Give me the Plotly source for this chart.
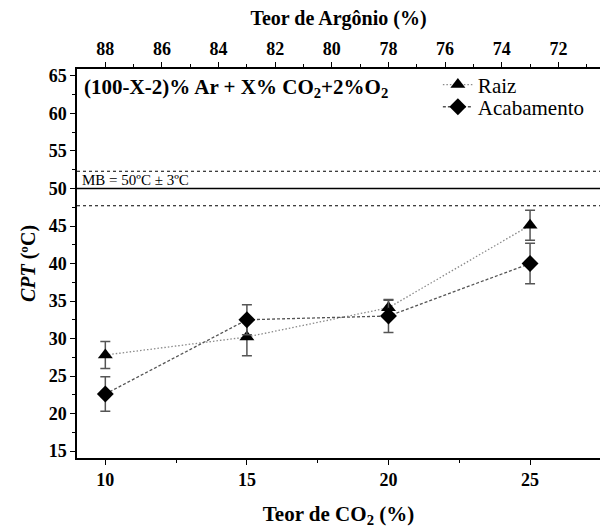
import plotly.graph_objects as go

# Data
co2 = [10, 15, 20, 25]
raiz = [27.8, 30.2, 34.1, 45.1]
raiz_err = [1.8, 2.5, 1.0, 2.0]
acab = [22.6, 32.5, 33.0, 40.0]
acab_err = [2.3, 2.0, 2.2, 2.7]
mb_center = 50.0
mb_upper = 52.3
mb_lower = 47.7
x_ticks = [10, 15, 20, 25]
ar_ticks = [88, 86, 84, 82, 80, 78, 76, 74, 72]
y_ticks = [15, 20, 25, 30, 35, 40, 45, 50, 55, 60, 65]

FONT = "Liberation Serif, Times New Roman, serif"
xr = [9.0, 27.47]

fig = go.Figure()
fig.add_trace(go.Scatter(
    x=co2, y=raiz, name="Raiz", mode="lines+markers",
    line=dict(color="#8a8a8a", width=1.3, dash="1.5px,2px"),
    marker=dict(symbol="triangle-up", size=13, color="black"),
    error_y=dict(type="data", array=raiz_err, visible=True, color="#555555",
                 thickness=1.5, width=5),
    legend="legend",
))
fig.add_trace(go.Scatter(
    x=co2, y=acab, name="Acabamento", mode="lines+markers",
    line=dict(color="#555555", width=1.3, dash="3px,2px"),
    marker=dict(symbol="diamond", size=13, color="black"),
    error_y=dict(type="data", array=acab_err, visible=True, color="#555555",
                 thickness=1.5, width=5),
    legend="legend2",
))
# dummy trace for top axis
fig.add_trace(go.Scatter(x=[ar_ticks[0]], y=[None], xaxis="x2", showlegend=False,
                         hoverinfo="skip"))

for yv, dash, w in [(mb_upper, "dot", 1.2), (mb_center, "solid", 1.3), (mb_lower, "dot", 1.2)]:
    fig.add_shape(type="line", xref="paper", x0=0, x1=1, yref="y", y0=yv, y1=yv,
                  line=dict(color="black", width=w, dash=dash))

fig.add_annotation(x=0.005, xref="paper", y=mb_center + 1.1, yref="y",
                   text="MB = 50ºC ± 3ºC", showarrow=False, xanchor="left",
                   font=dict(family=FONT, size=15, color="black"))
fig.add_annotation(x=0.01, xref="paper", y=0.99, yref="paper", yanchor="top",
                   text="(100-X-2)% Ar + X% CO<sub>2</sub>+2%O<sub>2</sub>",
                   showarrow=False, xanchor="left",
                   font=dict(family=FONT, size=21, color="black", weight="bold"))

axis_common = dict(showline=True, linecolor="black", linewidth=1.5, ticks="outside",
                   ticklen=5, tickwidth=1.2, tickcolor="black", showgrid=False,
                   zeroline=False, automargin=False,
                   tickfont=dict(family=FONT, size=18, color="black", weight="bold"))

leg_common = dict(xanchor="left", yanchor="middle", bgcolor="rgba(0,0,0,0)",
                  font=dict(family=FONT, size=21, color="black"))

fig.update_layout(
    width=600, height=528,
    margin=dict(l=77, r=0, t=69, b=70),
    paper_bgcolor="white", plot_bgcolor="white",
    xaxis=dict(range=xr, tickmode="array", tickvals=x_ticks,
               minor=dict(tickvals=[12.5, 17.5, 22.5], ticklen=3, ticks="outside",
                          tickcolor="black", tickwidth=1.2),
               title=dict(text="Teor de CO<sub>2</sub> (%)", standoff=17,
                          font=dict(family=FONT, size=21, color="black", weight="bold")),
               **axis_common),
    xaxis2=dict(overlaying="x", side="top", range=[98 - xr[0], 98 - xr[1]],
                tickmode="array", tickvals=ar_ticks,
                minor=dict(tickvals=[87, 85, 83, 81, 79, 77, 75, 73, 71], ticklen=3,
                           ticks="outside", tickcolor="black", tickwidth=1.2),
                title=dict(text="Teor de Argônio (%)", standoff=8,
                           font=dict(family=FONT, size=20, color="black", weight="bold")),
                **axis_common),
    yaxis=dict(range=[14.07, 65.93], tickmode="array", tickvals=y_ticks,
               minor=dict(dtick=2.5, tick0=15, ticklen=3, ticks="outside",
                          tickcolor="black", tickwidth=1.2),
               title=dict(text="<i>CPT</i> (ºC)", standoff=8,
                          font=dict(family=FONT, size=20, color="black", weight="bold")),
               **axis_common),
    legend=dict(x=0.69, y=0.959, **leg_common),
    legend2=dict(x=0.69, y=0.902, **leg_common),
    showlegend=True,
)

fig.write_html("out.html", config={"displayModeBar": False},
               post_script="document.body.style.margin='0';")
